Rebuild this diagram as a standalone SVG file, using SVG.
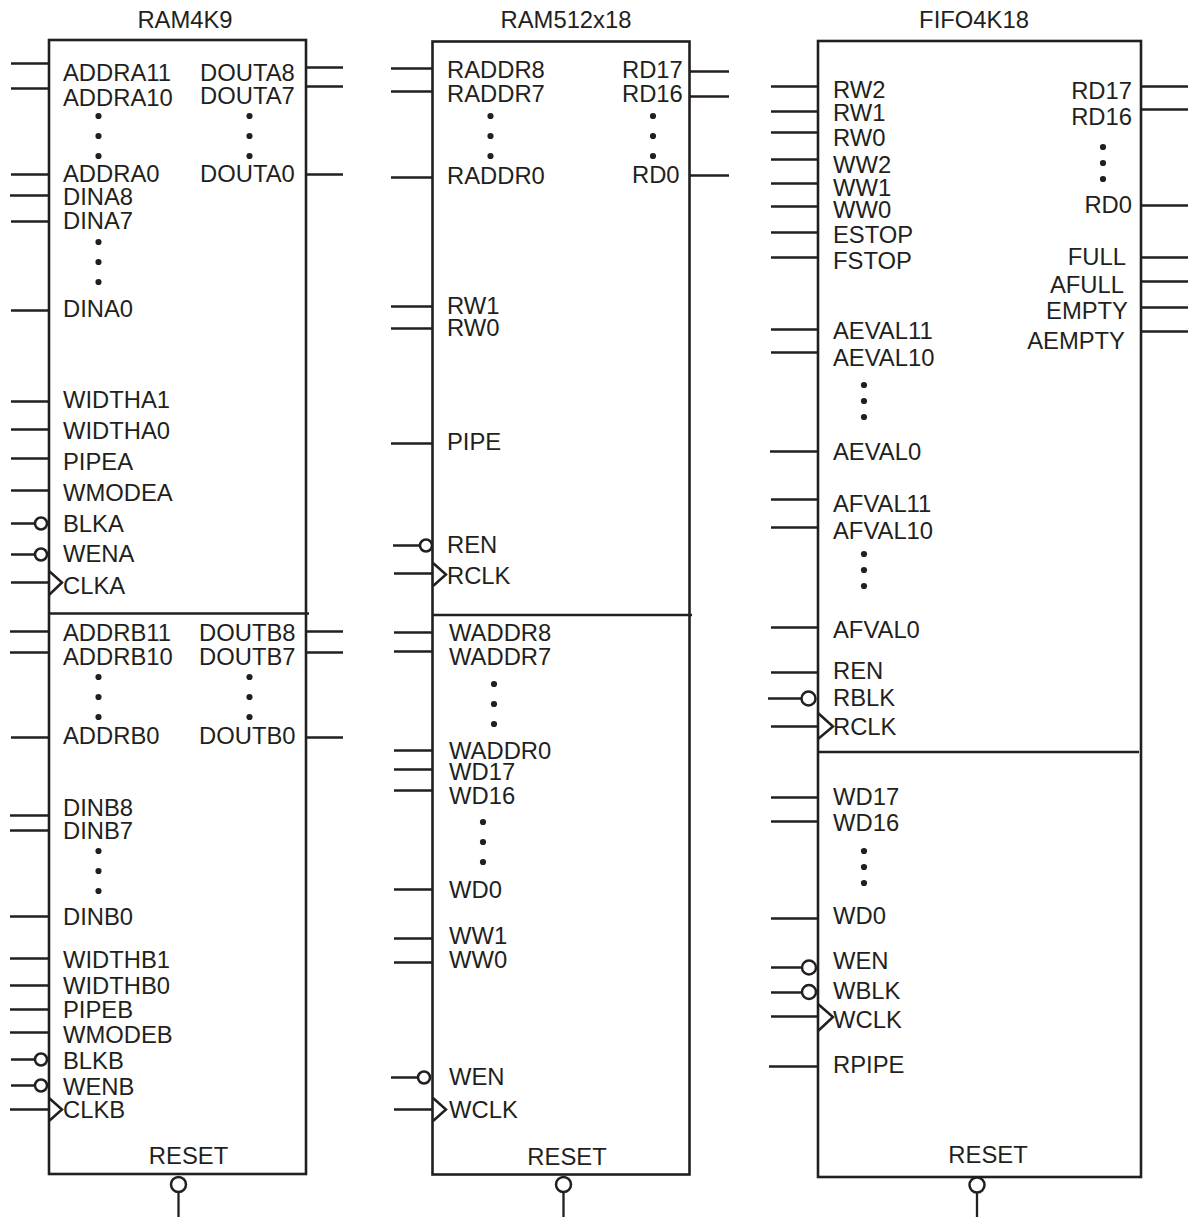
<svg xmlns="http://www.w3.org/2000/svg" width="1188" height="1217" viewBox="0 0 1188 1217">
<defs>
<style>
text{font-family:"Liberation Sans",Arial,sans-serif;font-size:23.8px;fill:#231f20}
.e{text-anchor:end}
.m{text-anchor:middle}
.box{fill:#fff;stroke:#231f20;stroke-width:2.6}
.w{fill:none;stroke:#231f20;stroke-width:2.3}
.div{fill:none;stroke:#231f20;stroke-width:2.6}
.b{fill:#fff;stroke:#231f20;stroke-width:2.5}
.c{fill:none;stroke:#231f20;stroke-width:2.5}
.d{fill:#231f20}
</style>
<circle id="dot" class="d" r="3.100"/>
<circle id="bub" class="b" r="6"/>
</defs>
<rect width="1188" height="1217" fill="#fff"/>
<g id="ram4k9">
<rect class="box" x="49" y="40" width="257" height="1134"/>
<path class="div" d="M49 613.500H309"/>
<text class="m" x="185" y="28">RAM4K9</text>
<text x="63" y="81">ADDRA11</text><text x="63" y="106">ADDRA10</text>
<use href="#dot" x="98.500" y="116"/><use href="#dot" x="98.500" y="136"/><use href="#dot" x="98.500" y="156"/>
<text x="63" y="182">ADDRA0</text><text x="63" y="205">DINA8</text><text x="63" y="229">DINA7</text>
<use href="#dot" x="98.500" y="242"/><use href="#dot" x="98.500" y="262"/><use href="#dot" x="98.500" y="282"/>
<text x="63" y="317">DINA0</text><text x="63" y="408">WIDTHA1</text><text x="63" y="439">WIDTHA0</text>
<text x="63" y="470">PIPEA</text><text x="63" y="501">WMODEA</text><text x="63" y="532">BLKA</text>
<text x="63" y="562">WENA</text><text x="63" y="594">CLKA</text>
<text x="200" y="81">DOUTA8</text><text x="200" y="104">DOUTA7</text>
<use href="#dot" x="249.500" y="116"/><use href="#dot" x="249.500" y="136"/><use href="#dot" x="249.500" y="156"/>
<text x="200" y="182">DOUTA0</text>
<text x="63" y="641">ADDRB11</text><text x="63" y="665">ADDRB10</text>
<use href="#dot" x="98.500" y="677"/><use href="#dot" x="98.500" y="697"/><use href="#dot" x="98.500" y="717"/>
<text x="63" y="744">ADDRB0</text><text x="63" y="816">DINB8</text><text x="63" y="839">DINB7</text>
<use href="#dot" x="98.500" y="851"/><use href="#dot" x="98.500" y="871"/><use href="#dot" x="98.500" y="891"/>
<text x="63" y="925">DINB0</text><text x="63" y="968">WIDTHB1</text><text x="63" y="994">WIDTHB0</text>
<text x="63" y="1018">PIPEB</text><text x="63" y="1043">WMODEB</text><text x="63" y="1069">BLKB</text>
<text x="63" y="1095">WENB</text><text x="63" y="1118">CLKB</text>
<text x="199" y="641">DOUTB8</text><text x="199" y="665">DOUTB7</text>
<use href="#dot" x="249.500" y="677"/><use href="#dot" x="249.500" y="697"/><use href="#dot" x="249.500" y="717"/>
<text x="199" y="744">DOUTB0</text>
<text class="m" x="188.500" y="1164">RESET</text>
</g>
<g id="ram512x18">
<rect class="box" x="432.500" y="41.500" width="257" height="1133"/>
<path class="div" d="M432.500 615H692"/>
<text class="m" x="566" y="28">RAM512x18</text>
<text x="447" y="78">RADDR8</text><text x="447" y="102">RADDR7</text>
<use href="#dot" x="490.500" y="116"/><use href="#dot" x="490.500" y="136"/><use href="#dot" x="490.500" y="156"/>
<text x="447" y="184">RADDR0</text><text x="447" y="314">RW1</text><text x="447" y="336">RW0</text>
<text x="447" y="450">PIPE</text><text x="447" y="553">REN</text><text x="447" y="584">RCLK</text>
<text x="622" y="78">RD17</text><text x="622" y="102">RD16</text>
<use href="#dot" x="653" y="116"/><use href="#dot" x="653" y="136"/><use href="#dot" x="653" y="156"/>
<text x="632" y="183">RD0</text>
<text x="449" y="641">WADDR8</text><text x="449" y="665">WADDR7</text>
<use href="#dot" x="494" y="684"/><use href="#dot" x="494" y="704"/><use href="#dot" x="494" y="724"/>
<text x="449" y="759">WADDR0</text><text x="449" y="780">WD17</text><text x="449" y="804">WD16</text>
<use href="#dot" x="483" y="822"/><use href="#dot" x="483" y="842"/><use href="#dot" x="483" y="862"/>
<text x="449" y="898">WD0</text><text x="449" y="944">WW1</text><text x="449" y="968">WW0</text>
<text x="449" y="1085">WEN</text><text x="449" y="1118">WCLK</text>
<text class="m" x="567" y="1165">RESET</text>
</g>
<g id="fifo4k18">
<rect class="box" x="818" y="41" width="323" height="1136"/>
<path class="div" d="M818 752H1139"/>
<text class="m" x="974" y="28">FIFO4K18</text>
<text x="833" y="98">RW2</text><text x="833" y="121">RW1</text><text x="833" y="146">RW0</text>
<text x="833" y="173">WW2</text><text x="833" y="196">WW1</text><text x="833" y="218">WW0</text>
<text x="833" y="243">ESTOP</text><text x="833" y="269">FSTOP</text>
<text x="833" y="339">AEVAL11</text><text x="833" y="366">AEVAL10</text>
<use href="#dot" x="864" y="385"/><use href="#dot" x="864" y="401"/><use href="#dot" x="864" y="417"/>
<text x="833" y="460">AEVAL0</text><text x="833" y="512">AFVAL11</text><text x="833" y="539">AFVAL10</text>
<use href="#dot" x="864" y="554"/><use href="#dot" x="864" y="570"/><use href="#dot" x="864" y="586"/>
<text x="833" y="638">AFVAL0</text><text x="833" y="679">REN</text><text x="833" y="706">RBLK</text><text x="833" y="735">RCLK</text>
<text x="833" y="805">WD17</text><text x="833" y="831">WD16</text>
<use href="#dot" x="864" y="851"/><use href="#dot" x="864" y="867"/><use href="#dot" x="864" y="883"/>
<text x="833" y="924">WD0</text><text x="833" y="969">WEN</text><text x="833" y="999">WBLK</text><text x="833" y="1028">WCLK</text>
<text x="833" y="1073">RPIPE</text>
<text class="e" x="1132" y="99">RD17</text><text class="e" x="1132" y="125">RD16</text>
<use href="#dot" x="1103" y="147"/><use href="#dot" x="1103" y="163"/><use href="#dot" x="1103" y="179"/>
<text class="e" x="1132" y="213">RD0</text><text class="e" x="1126" y="265">FULL</text><text class="e" x="1124" y="293">AFULL</text>
<text class="e" x="1128" y="319">EMPTY</text><text class="e" x="1125" y="349">AEMPTY</text>
<text class="m" x="988" y="1163">RESET</text>
</g>
<g id="connectors">
<path class="w" d="M11 63.500H48M11 88.500H48M11 174.500H48M10 195.500H48M11 221.500H48M11 310.500H48M11 401.500H48M11 429.500H48M11 458.500H48M11 490.500H48M11 523.500H36M11 554.500H36M11 582.500H48M10 631.500H48M10 652.500H48M11 737.500H48M10 815.500H48M10 830.500H48M10 916.500H48M10 958.500H48M10 985.500H48M10 1009.500H48M10 1032.500H48M11 1059.500H36M11 1085.500H36M10 1109.500H48"/>
<path class="w" d="M306 67.500H343M306 86.500H343M306 174.500H343M306 631.500H343M306 652.500H343M306 737.500H343"/>
<path class="w" d="M178.500 1192V1217M563.500 1192V1217M977 1192V1217"/>
<path class="w" d="M391 68.500H432M391 91.500H432M391 177.500H432M391 306.500H432M391 328.500H432M391 443.500H432M393 545.500H420M394 573.500H432M394 632.500H432M394 651.500H432M394 750.500H432M394 769.500H432M394 790.500H432M394 889.500H432M394 938.500H432M394 962.500H432M391 1077.500H418M394 1109.500H432"/>
<path class="w" d="M690 71.500H729M690 96.500H729M690 175.500H729"/>
<path class="w" d="M771 86.500H818M771 111.500H818M771 132.500H818M771 159.500H818M771 183.500H818M771 206.500H818M771 232.500H818M771 257.500H818M771 329.500H818M771 352.500H818M770 451.500H818M771 499.500H818M771 527.500H818M771 627.500H818M771 672.500H818M768 698.500H802M771 726.500H818M771 797.500H818M771 821.500H818M771 918.500H818M771 967.500H803M771 992.500H803M771 1016.500H818M769 1066.500H818"/>
<path class="w" d="M1141 86.500H1188M1141 109.500H1188M1141 205.500H1188M1141 257.500H1188M1141 281.500H1188M1141 307.500H1188M1141 331.500H1188"/>
<use href="#bub" x="41" y="523.500"/><use href="#bub" x="41" y="554.500"/><use href="#bub" x="41" y="1059.500"/><use href="#bub" x="41" y="1085.500"/>
<use href="#bub" x="426" y="545.500"/><use href="#bub" x="424" y="1077.500"/>
<circle class="b" cx="808.500" cy="698.500" r="7"/><circle class="b" cx="809" cy="967.500" r="7"/><circle class="b" cx="809" cy="992" r="7"/>
<circle class="b" cx="178.500" cy="1184.500" r="7.500"/><circle class="b" cx="563.500" cy="1184.500" r="7.500"/><circle class="b" cx="977" cy="1185" r="7.500"/>
<path class="c" d="M49 571L62 582.500 49 595M49 1098L62 1109.500 49 1121M433 563L446 574.500 433 586M433 1098L446 1109.500 433 1121M818 713L833 726.500 818 739M818 1004L833 1017 818 1031"/>
</g>
</svg>
